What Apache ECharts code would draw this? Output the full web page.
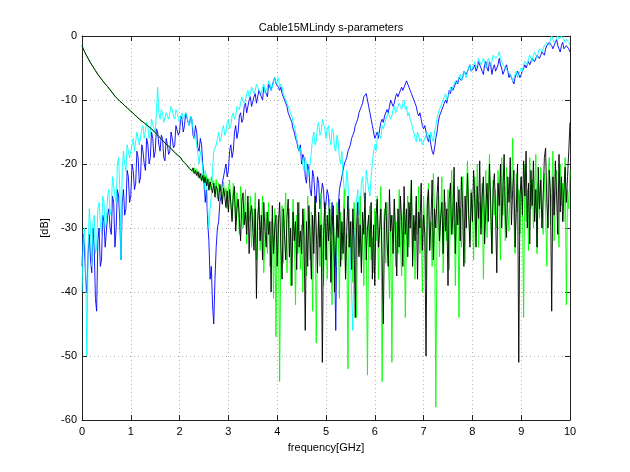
<!DOCTYPE html>
<html>
<head>
<meta charset="utf-8">
<title>Cable15MLindy s-parameters</title>
<script src="https://cdn.jsdelivr.net/npm/echarts@6/dist/echarts.min.js"></script>
<style>
  html, body { margin: 0; padding: 0; background: #fff; }
  #chart { width: 630px; height: 472px; }
</style>
</head>
<body>
<div id="chart"></div>
<script>
// frequency span 0 .. 10 GHz, samples every 0.025 GHz (401 points)
const freqMax = 10
const xTicks = [0, 1, 2, 3, 4, 5, 6, 7, 8, 9, 10]
const yTicks = [0, -10, -20, -30, -40, -50, -60]

// one row = 20 samples = 0.5 GHz, the lone value at the end is 10 GHz
const sBlue = [
  -36, -31, -33, -38, -40, -34, -31, -35, -37, -30, -33, -41, -43, -32, -30, -36, -35, -28, -29, -33,
  -33, -28, -27, -30, -31, -25, -26, -33, -30, -24, -25, -29, -35, -26, -24, -28, -27, -21, -22, -26,
  -25, -20, -21, -24, -23, -18, -19, -23, -22, -17, -18, -20, -21, -16, -17, -20, -19, -15, -16, -19,
  -18, -14.5, -15, -17, -18, -15.5, -16, -19, -19.5, -16, -17, -18.5, -18, -15, -16, -17.5, -17, -14, -14, -15.5,
  -15, -12.5, -13, -15, -14, -12, -12, -13.5, -14, -12.5, -13, -15.5, -16, -14, -15, -17.5, -18, -16, -17, -20,
  -22, -26, -24, -29, -32, -38, -36, -42, -45, -38, -33, -30, -29, -26, -25, -23, -23, -21, -20, -22,
  -21, -18, -17, -19, -18, -15, -14, -16, -15, -12.5, -12, -13.5, -13, -11, -10.5, -12, -12, -10, -9.5, -11,
  -11, -9.5, -9, -10.5, -10.5, -8.5, -8.5, -9.5, -10, -8, -8, -9, -9.5, -7.5, -7.5, -8.5, -8.5, -7, -6.5, -7.5,
  -7.5, -8, -8.5, -8, -9, -9.5, -10, -10.5, -11, -12, -12, -13, -13.5, -14.5, -15, -16, -16.5, -17.5, -18, -17,
  -20, -18.5, -19, -22, -23, -20, -21, -24, -25, -21, -22, -25, -26, -22, -23, -27, -27, -23, -24, -28,
  -28, -24, -25, -30, -31, -26, -26, -35, -46, -30, -27, -24, -23, -22, -21, -20, -19.5, -19, -18, -17.5,
  -17, -16, -15.5, -15, -14, -13.5, -13, -12, -11.5, -11, -10.5, -9.5, -9.5, -9, -10, -11, -12, -13, -14, -15,
  -16, -15.5, -15, -16, -14.5, -13.5, -13, -13.5, -12.5, -12, -11.5, -12, -11, -10, -10, -11, -10.5, -9.5, -9, -9.5,
  -9, -8.5, -8, -8.5, -8.5, -7.5, -7, -7.5, -8, -8.5, -9, -9.5, -10, -10.5, -11, -12, -12.5, -12, -13, -14,
  -14.5, -14, -15, -16, -16.5, -15.5, -17, -18, -18.5, -17.5, -16, -15, -13.5, -12.5, -12, -11.5, -11, -10.5, -10, -10.5,
  -9.5, -8.5, -9, -8, -8.5, -8, -7.5, -7, -7.5, -6.5, -6.5, -7, -6.5, -5.5, -5.5, -6, -6, -5, -4.5, -5.5,
  -5.5, -5, -4.5, -5.5, -5, -4, -4, -5, -5.5, -6, -4.5, -4, -5, -5.5, -4, -4.5, -6, -5, -4.5, -5.5,
  -5, -4.5, -3.5, -4.5, -5, -6, -5.5, -5, -4.5, -5.5, -6.5, -6, -6, -7, -7.5, -6.5, -6.5, -5.5, -5.5, -6.5,
  -6, -5.5, -5, -4.5, -5, -4.5, -4, -4.5, -4.5, -3.5, -3.5, -4, -4, -3, -3, -3.5, -3, -2.5, -2.5, -3,
  -2, -1.5, -1.5, -1, -1, -1.5, -2, -1.5, -1, -0.5, -1.5, -2, -2.5, -1.5, -1, -2, -2, -1.5, -1.5, -2,
  -2.5
]

const sCyan = [
  -40, -32, -30, -36, -50, -33, -27, -30, -36, -29, -28, -34, -33, -27, -26, -29, -31, -25, -26, -30,
  -29, -25, -24, -28, -27, -22, -22, -25, -26, -20, -19, -24, -35, -21, -18, -20, -21, -17, -17, -19,
  -19, -17, -16, -18, -18, -15, -15, -17, -17, -14.5, -14, -16, -16, -13.5, -14, -16, -15.5, -13, -13, -14.5,
  -15, -12, -8, -12, -13, -11.5, -12, -13.5, -13.5, -12, -12, -13, -13, -11, -11.5, -12.5, -13, -11.5, -12, -13,
  -13.5, -12.5, -12, -13, -13, -12, -12.5, -13.5, -14, -12.5, -13, -14.5, -16, -15.5, -17, -18.5, -20, -18, -19, -21,
  -24, -21, -22, -27, -30, -27, -25, -21, -18, -17.5, -17, -16, -15, -16.5, -16, -14.5, -14, -15.5, -15, -13.5,
  -13, -14.5, -14, -12.5, -12, -13, -12.5, -11, -11, -11.5, -10.5, -9.5, -9.5, -10.5, -10, -9, -8.5, -9.5, -9, -8,
  -8, -9, -8.5, -7.5, -7.5, -8.5, -8.5, -9, -8, -7.5, -9, -8.5, -8, -7, -7.5, -8.5, -8, -7, -6.5, -7.5,
  -7, -6.5, -8, -7.5, -8, -9, -9.5, -10, -10, -11, -11, -12, -12.5, -13.5, -14, -15, -16, -17, -18, -17.5,
  -19, -20, -21, -19, -20, -22, -22, -20, -18, -16, -15, -17, -16.5, -14, -13.5, -15.5, -15, -13, -13, -14.5,
  -16, -14.5, -14, -16, -17, -14.5, -15, -17.5, -18, -15.5, -16.5, -19, -20, -18, -22, -24, -25, -21, -23, -28,
  -35, -40, -46, -33, -30, -26, -24, -28, -27, -23, -22, -25, -26, -21, -21, -24, -25, -22, -20, -18,
  -17, -18, -16, -15, -15.5, -16, -14, -14.5, -14.5, -13, -13, -12, -12, -13, -12.5, -11.5, -11, -12, -12, -11,
  -10.5, -11, -11.5, -10.5, -10, -11.5, -11, -12.5, -12, -13, -13.5, -14.5, -15, -16, -16.5, -15, -15, -16.5, -16, -17,
  -17, -16, -16, -15, -15.5, -16.5, -15, -16, -16.5, -15, -14, -13, -12, -11.5, -11, -10.5, -10, -9.5, -9, -10,
  -9.5, -9, -8, -8.5, -8.5, -7.5, -7, -7.5, -7.5, -6.5, -6, -7, -6.5, -5.5, -5.5, -6.5, -5.5, -5, -4.5, -5.5,
  -5, -4.5, -4, -5, -4.5, -3.5, -3.5, -4.5, -4.5, -3.5, -4, -5, -4.5, -3.5, -3.5, -4.5, -4, -3, -3, -3.5,
  -3.5, -3, -2.5, -3.5, -4, -4.5, -4.5, -5, -5, -5.5, -5.5, -6, -6, -7, -6.5, -6, -5.5, -6.5, -6, -5.5,
  -5, -5.5, -4.5, -4, -4, -4.5, -3.5, -3, -3.5, -4, -3, -2.5, -3, -3.5, -2.5, -2, -2, -2.5, -2, -1.5,
  -1.5, -1, -1, -1.5, -0.5, 0, -0.3, -1, -1, -0.5, 0, -0.5, -0.5, 0, 0, -0.5, -1, -0.5, -0.3, -1,
  -1.5
]

const sGreen = [
  -1.5, -2.0, -2.4, -2.8, -3.1, -3.5, -3.8, -4.2, -4.5, -4.8, -5.1, -5.4, -5.7, -6.0, -6.3, -6.5, -6.8, -7.0, -7.2, -7.5,
  -7.7, -7.9, -8.1, -8.4, -8.6, -8.9, -9.1, -9.4, -9.6, -9.8, -10.0, -10.2, -10.3, -10.5, -10.7, -10.9, -11.0, -11.2, -11.4, -11.6,
  -11.7, -11.9, -12.1, -12.3, -12.4, -12.6, -12.8, -13.0, -13.1, -13.3, -13.4, -13.6, -13.7, -13.9, -14.0, -14.2, -14.3, -14.5, -14.7, -14.9,
  -15.1, -15.3, -15.5, -15.7, -15.9, -16.1, -16.3, -16.5, -16.7, -16.9, -17.1, -17.2, -17.4, -17.6, -17.8, -18.0, -18.2, -18.4, -18.6, -18.7,
  -18.9, -19.2, -19.2, -19.6, -19.5, -19.9, -20.0, -20.4, -20.1, -20.8, -20.5, -21.3, -20.6, -21.6, -20.8, -22.0, -21.2, -22.4, -21.4, -22.6,
  -21.6, -23.0, -21.8, -23.4, -22.3, -24.0, -22.0, -23.2, -22.6, -24.6, -22.4, -25.5, -23.0, -24.2, -23.4, -26.0, -22.8, -25.0, -23.8, -27.0,
  -24.0, -22.5, -26.5, -28.5, -23.0, -25.0, -29.5, -24.5, -27.0, -31.0, -23.5, -26.5, -30.0, -28.0, -24.0, -32.5, -26.0, -29.0, -25.0, -33.0,
  -27.0, -30.5, -24.5, -35.0, -28.0, -26.0, -33.5, -29.5, -25.0, -37.0, -31.0, -27.5, -34.0, -26.0, -36.0, -30.0, -28.5, -41.0, -27.0, -47.0,
  -30.0, -28.0, -54.0, -32.0, -26.5, -35.5, -29.0, -24.5, -37.0, -31.0, -27.0, -39.0, -33.0, -25.5, -30.5, -42.0, -28.0, -34.0, -26.0, -36.5,
  -29.5, -40.0, -27.0, -33.0, -37.5, -25.0, -31.0, -35.0, -27.5, -43.0, -30.0, -26.0, -48.0, -32.0, -28.0, -36.0, -24.5, -33.5, -39.0, -27.0,
  -31.0, -38.0, -29.0, -25.5, -34.0, -42.0, -28.0, -32.5, -36.0, -26.0, -30.0, -41.0, -27.5, -35.0, -29.0, -24.0, -37.0, -31.0, -52.0, -27.0,
  -33.0, -29.0, -38.5, -26.0, -31.0, -44.0, -28.5, -34.0, -25.0, -36.0, -30.0, -39.0, -27.0, -33.0, -53.0, -29.0, -26.5, -35.0, -31.5, -37.0,
  -27.0, -32.0, -25.0, -38.0, -29.5, -23.5, -54.0, -30.0, -27.0, -35.5, -26.0, -33.0, -41.0, -28.0, -51.0, -31.0, -25.5, -36.0, -29.0, -34.0,
  -24.0, -32.0, -37.5, -28.0, -26.0, -44.0, -30.5, -25.0, -33.0, -27.0, -22.5, -35.0, -29.0, -38.0, -26.0, -31.0, -23.5, -34.0, -28.5, -40.0,
  -25.0, -30.0, -38.0, -27.0, -23.0, -33.5, -29.0, -36.0, -21.5, -27.5, -58.0, -31.0, -25.0, -34.5, -28.0, -22.0, -37.0, -30.0, -26.0, -32.0,
  -24.0, -36.5, -28.5, -21.0, -31.0, -26.0, -39.0, -29.0, -23.5, -44.0, -27.0, -33.0, -22.0, -30.0, -35.5, -25.0, -19.5, -28.0, -32.0, -24.0,
  -27.0, -35.0, -22.0, -29.5, -20.0, -33.0, -26.0, -30.0, -23.0, -38.0, -27.5, -21.0, -31.5, -25.0, -18.5, -29.0, -34.0, -22.5, -28.0, -24.0,
  -30.0, -21.0, -26.5, -35.0, -19.0, -28.0, -23.5, -32.0, -20.5, -27.0, -30.5, -22.0, -25.5, -16.0, -29.0, -34.0, -21.5, -27.5, -24.0, -31.0,
  -22.0, -26.0, -44.0, -20.0, -29.0, -24.0, -33.5, -19.0, -27.0, -22.5, -30.0, -25.0, -18.5, -34.0, -23.0, -28.5, -20.5, -26.0, -31.0, -21.5,
  -27.0, -36.0, -22.0, -19.0, -29.5, -24.5, -18.0, -32.0, -25.0, -21.0, -28.0, -33.0, -20.0, -26.5, -23.0, -29.0, -19.0, -42.0, -24.0, -27.0,
  -21.0
]

const sBlack = [
  -1.5, -2.0, -2.4, -2.8, -3.1, -3.5, -3.8, -4.2, -4.5, -4.8, -5.1, -5.4, -5.7, -6.0, -6.3, -6.5, -6.8, -7.0, -7.2, -7.5,
  -7.7, -7.9, -8.1, -8.4, -8.6, -8.9, -9.1, -9.4, -9.6, -9.8, -10.0, -10.2, -10.3, -10.5, -10.7, -10.9, -11.0, -11.2, -11.4, -11.6,
  -11.7, -11.9, -12.1, -12.3, -12.4, -12.6, -12.8, -13.0, -13.1, -13.3, -13.4, -13.6, -13.7, -13.9, -14.0, -14.2, -14.3, -14.5, -14.7, -14.9,
  -15.1, -15.3, -15.5, -15.7, -15.9, -16.1, -16.3, -16.5, -16.7, -16.9, -17.1, -17.2, -17.4, -17.6, -17.8, -18.0, -18.2, -18.4, -18.6, -18.7,
  -18.9, -19.0, -19.4, -19.3, -19.8, -19.7, -20.2, -20.1, -20.7, -20.4, -21.1, -20.6, -21.5, -21.0, -21.8, -21.2, -22.2, -21.5, -22.6, -21.8,
  -22.9, -22.0, -23.4, -22.3, -24.1, -22.8, -23.6, -24.5, -23.0, -25.2, -23.5, -24.0, -25.8, -23.2, -24.6, -26.3, -23.8, -25.0, -26.8, -24.2,
  -27.5, -24.0, -26.0, -29.0, -25.0, -23.5, -30.5, -27.0, -25.5, -28.5, -32.0, -26.0, -24.5, -29.5, -27.5, -31.0, -25.0, -34.0, -28.0, -26.5,
  -30.0, -33.5, -27.0, -41.0, -29.0, -25.5, -32.0, -28.0, -35.0, -26.0, -30.5, -33.0, -27.5, -31.0, -29.0, -40.0, -26.5, -34.0, -30.0, -28.0,
  -36.0, -29.5, -26.0, -33.0, -38.0, -27.0, -31.0, -35.0, -28.5, -25.5, -34.5, -30.0, -39.0, -27.5, -32.0, -29.0, -36.5, -26.0, -33.0, -30.5,
  -34.0, -27.0, -31.5, -46.0, -29.0, -36.0, -26.5, -32.0, -38.0, -28.0, -34.0, -25.0, -30.0, -37.0, -27.5, -33.0, -29.5, -51.0, -31.0, -26.0,
  -35.0, -28.0, -32.0, -27.0, -38.5, -30.0, -26.5, -40.0, -33.0, -28.0, -31.5, -25.5, -36.0, -29.0, -34.0, -27.0, -38.0, -30.5, -25.0, -33.0,
  -29.0, -36.5, -27.0, -32.0, -44.0, -30.0, -26.0, -34.5, -29.5, -37.0, -27.5, -31.0, -24.5, -35.0, -30.0, -28.0, -33.0, -26.0, -38.0, -29.5,
  -39.0, -28.0, -25.5, -33.0, -30.0, -27.0, -35.0, -45.0, -29.0, -26.0, -32.0, -36.0, -24.0, -30.5, -28.0, -34.0, -25.5, -31.0, -37.5, -27.0,
  -33.0, -25.0, -29.0, -36.0, -23.5, -31.0, -27.0, -34.5, -26.0, -30.0, -22.5, -36.0, -28.0, -32.0, -25.0, -38.0, -27.5, -30.0, -23.0, -33.5,
  -28.0, -31.0, -50.0, -26.0, -24.0, -33.5, -29.0, -22.5, -35.0, -27.0, -30.0, -25.0, -22.0, -32.0, -28.5, -26.0, -34.0, -24.0, -30.5, -27.0,
  -39.0, -25.5, -23.0, -31.0, -28.0, -20.5, -34.0, -26.0, -29.5, -24.0, -32.0, -22.0, -27.0, -36.0, -25.0, -30.0, -21.5, -28.0, -33.0, -24.5,
  -29.0, -21.0, -26.0, -33.0, -23.5, -28.5, -19.5, -31.0, -25.0, -22.0, -32.5, -27.0, -23.0, -29.0, -20.0, -26.0, -34.0, -24.0, -21.5, -28.0,
  -37.0, -23.0, -26.5, -20.0, -30.0, -24.5, -18.5, -28.0, -31.5, -22.0, -26.0, -19.0, -29.5, -24.0, -21.0, -33.0, -27.0, -20.0, -51.0, -25.0,
  -22.0, -28.0, -19.5, -25.0, -18.0, -30.0, -23.0, -32.5, -21.0, -26.5, -19.5, -29.0, -24.0, -33.0, -20.5, -27.0, -22.5, -30.0, -25.0, -19.0,
  -17.5, -26.0, -30.0, -21.0, -24.5, -43.0, -22.0, -28.0, -19.5, -25.0, -31.0, -18.5, -27.5, -22.0, -29.0, -24.0, -20.5, -26.0, -22.0, -18.0,
  -13.5
]

// pair each value with its frequency (evenly spread over 0..freqMax)
const toPoints = vals => vals.map((v, i) => [(i * freqMax) / (vals.length - 1), v])

const chart = echarts.init(document.getElementById('chart'), null, { renderer: 'canvas' })

const font = 'Liberation Sans, Arial, Helvetica, sans-serif'
const axisColor = '#222'
const gridLine = { show: true, lineStyle: { color: '#b4b4b4', type: [1, 3], width: 1 } }

const lineSeries = (name, vals, color) => ({
    name,
    type: 'line',
    data: toPoints(vals),
    showSymbol: false,
    symbol: 'none',
    clip: true,
    lineStyle: { color, width: 0.9 },
    itemStyle: { color },
    emphasis: { disabled: true }
})

// box axes (top/right) only carry inward ticks, like the original plot frame
const frameAxis = pos => ({
    type: 'value',
    position: pos,
    axisLine: { show: true, onZero: false, lineStyle: { color: axisColor, width: 1 } },
    axisTick: { show: true, inside: true, length: 5, lineStyle: { color: axisColor } },
    axisLabel: { show: false },
    splitLine: { show: false }
})

chart.setOption({
    animation: false,
    backgroundColor: '#fff',
    title: {
        text: 'Cable15MLindy s-parameters',
        left: 326,
        top: 17,
        textAlign: 'center',
        textStyle: { fontFamily: font, fontSize: 11, fontWeight: 'normal', color: '#000' }
    },
    grid: { left: 82, right: 60, top: 36, bottom: 52 },
    xAxis: [
        {
            type: 'value',
            min: xTicks[0],
            max: xTicks[xTicks.length - 1],
            interval: 1,
            name: 'frequency[GHz]',
            nameLocation: 'middle',
            nameGap: 22,
            nameTextStyle: { fontFamily: font, fontSize: 11, color: '#000' },
            axisLine: { show: true, onZero: false, lineStyle: { color: axisColor, width: 1 } },
            axisTick: { show: true, inside: true, length: 5, lineStyle: { color: axisColor } },
            axisLabel: { margin: 6, fontFamily: font, fontSize: 11, color: '#000' },
            splitLine: gridLine
        },
        { ...frameAxis('top'), min: xTicks[0], max: xTicks[xTicks.length - 1], interval: 1 }
    ],
    yAxis: [
        {
            type: 'value',
            min: yTicks[yTicks.length - 1],
            max: yTicks[0],
            interval: 10,
            name: '[dB]',
            nameLocation: 'middle',
            nameGap: 26,
            nameTextStyle: { fontFamily: font, fontSize: 11, color: '#000' },
            axisLine: { show: true, onZero: false, lineStyle: { color: axisColor, width: 1 } },
            axisTick: { show: true, inside: true, length: 5, lineStyle: { color: axisColor } },
            axisLabel: { margin: 5, fontFamily: font, fontSize: 11, color: '#000' },
            splitLine: gridLine
        },
        { ...frameAxis('right'), min: yTicks[yTicks.length - 1], max: yTicks[0], interval: 10 }
    ],
    series: [
        lineSeries('blue', sBlue, '#0000ff'),
        lineSeries('cyan', sCyan, '#00ffff'),
        lineSeries('green', sGreen, '#00ff00'),
        lineSeries('black', sBlack, '#000000')
    ]
})
</script>
</body>
</html>
